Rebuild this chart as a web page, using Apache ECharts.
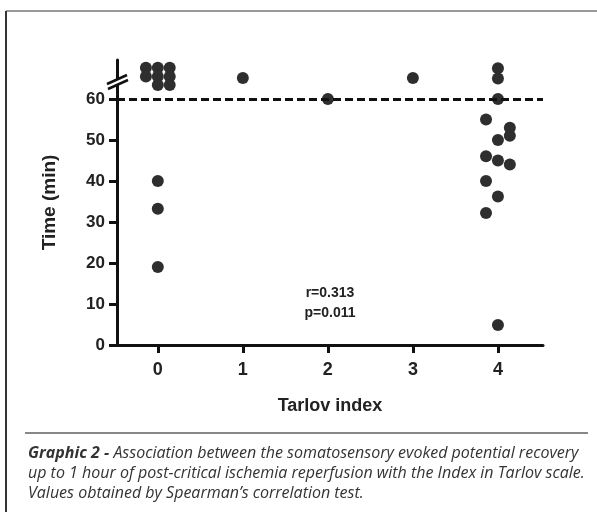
<!DOCTYPE html>
<html>
<head>
<meta charset="utf-8">
<script src="https://cdn.jsdelivr.net/npm/echarts@6/dist/echarts.min.js"></script>
<style>
  html, body { margin: 0; padding: 0; background: #fff; }
  #chart { width: 597px; height: 512px; }
</style>
</head>
<body>
<div id="chart"></div>
<script>
// Tarlov index categories and tick labels
var tarlovTicks = [0, 1, 2, 3, 4];
var timeTicks = [0, 10, 20, 30, 40, 50, 60];
// points as [tarlov index (with column spread), time in min]
var tarlov0 = [[-0.14, 67.6], [0, 67.6], [0.14, 67.6], [-0.14, 65.5], [0, 65.5], [0.14, 65.5],
  [0, 63.4], [0.14, 63.4], [0, 40], [0, 33.2], [0, 19]];
var tarlov1 = [[1, 65.1]];
var tarlov2 = [[2, 60]];
var tarlov3 = [[3, 65.1]];
var tarlov4 = [[0, 67.5], [0, 65], [0, 60], [-0.14, 55], [0.14, 53], [0.14, 51], [0, 50],
  [-0.14, 46], [0, 45], [0.14, 44], [-0.14, 40], [0, 36.2], [-0.14, 32.2], [0, 4.9]];
var cutoff = 60;
var stats = ['r=0.313', 'p=0.011'];

var allPoints = tarlov0.concat(tarlov1, tarlov2, tarlov3, tarlov4.map(function (p) {
  return [p[0] + 4, p[1]];
}));

var chart = echarts.init(document.getElementById('chart'));
var font = "'Liberation Sans', Arial, sans-serif";

chart.setOption({
  animation: false,
  grid: { left: 117, right: 54, top: 60, bottom: 167 },
  xAxis: {
    type: 'value',
    min: -0.48,
    max: 4.53,
    name: 'Tarlov index',
    nameLocation: 'middle',
    nameGap: 52,
    nameTextStyle: { fontFamily: font, fontWeight: 'bold', fontSize: 18, color: '#222' },
    splitLine: { show: false },
    axisLine: { onZero: false, lineStyle: { color: '#111', width: 3 } },
    axisTick: { customValues: tarlovTicks, length: 8, lineStyle: { color: '#111', width: 3 } },
    axisLabel: { customValues: tarlovTicks, margin: 16, fontFamily: font, fontWeight: 'bold', fontSize: 18, color: '#222' }
  },
  yAxis: {
    type: 'value',
    min: 0,
    max: 69.5,
    name: 'Time (min)',
    nameLocation: 'middle',
    nameGap: 58,
    nameTextStyle: { fontFamily: font, fontWeight: 'bold', fontSize: 19, color: '#222' },
    splitLine: { show: false },
    axisLine: { show: true, onZero: false, lineStyle: { color: '#111', width: 3 } },
    axisTick: { show: true, customValues: timeTicks, length: 8, lineStyle: { color: '#111', width: 3 } },
    axisLabel: { customValues: timeTicks, margin: 12, fontFamily: font, fontWeight: 'bold', fontSize: 17, color: '#222' }
  },
  series: [{
    type: 'scatter',
    symbolSize: 12,
    itemStyle: { color: '#2e2e2e', opacity: 1 },
    data: allPoints,
    z: 3,
    markLine: {
      silent: true,
      symbol: 'none',
      label: { show: false },
      lineStyle: { color: '#111', width: 3, type: [8, 4] },
      data: [{ yAxis: cutoff }]
    }
  }],
  graphic: [
    // frame
    { type: 'line', shape: { x1: 6, y1: 11, x2: 597, y2: 11 }, style: { stroke: '#999', lineWidth: 2 } },
    { type: 'line', shape: { x1: 6, y1: 11, x2: 6, y2: 512 }, style: { stroke: '#333', lineWidth: 2 } },
    { type: 'line', shape: { x1: 25, y1: 433, x2: 588, y2: 433 }, style: { stroke: '#888', lineWidth: 2 } },
    // axis break
    { type: 'rect', shape: { x: 112, y: 79, width: 10, height: 5 }, style: { fill: '#fff' }, z: 10 },
    { type: 'line', shape: { x1: 107, y1: 84, x2: 127, y2: 75 }, style: { stroke: '#111', lineWidth: 2.5 }, z: 11 },
    { type: 'line', shape: { x1: 108, y1: 89, x2: 128, y2: 80 }, style: { stroke: '#111', lineWidth: 2.5 }, z: 11 },
    // statistics
    { type: 'text', x: 330, y: 293, style: { text: stats[0], fontFamily: font, fontWeight: 'bold', fontSize: 14, fill: '#222', align: 'center', verticalAlign: 'middle' } },
    { type: 'text', x: 330, y: 313, style: { text: stats[1], fontFamily: font, fontWeight: 'bold', fontSize: 14, fill: '#222', align: 'center', verticalAlign: 'middle' } },
    // caption
    {
      type: 'text', x: 28, y: 443,
      style: {
        text: '{b|Graphic 2 -} Association between the somatosensory evoked potential recovery\nup to 1 hour of post-critical ischemia reperfusion with the Index in Tarlov scale.\nValues obtained by Spearman\u2019s correlation test.',
        fontFamily: "'Open Sans', sans-serif", fontStyle: 'italic', fontSize: 16, lineHeight: 20, fill: '#333',
        rich: {
          b: { fontFamily: "'Open Sans', sans-serif", fontStyle: 'italic', fontWeight: 'bold', fontSize: 16, fill: '#333' }
        }
      }
    }
  ]
});
</script>
</body>
</html>
